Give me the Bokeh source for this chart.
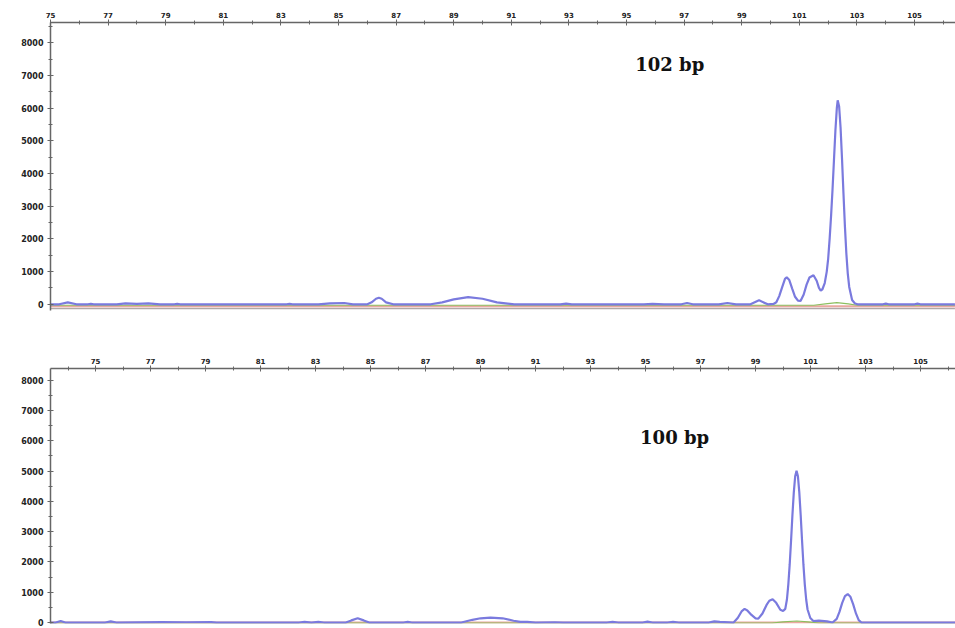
from bokeh.plotting import figure
from bokeh.layouts import column
from bokeh.models import FixedTicker, Range1d, Label
from bokeh.embed import file_html
from bokeh.resources import INLINE

# ---------------- data ----------------
x_ticks = list(range(75, 106, 2))
x_minor = list(range(73, 108))
y_ticks = list(range(0, 8001, 1000))
y_minor = list(range(0, 8501, 500))

# top panel (102 bp) blue trace
top_x = [75.0, 75.3, 75.6, 75.9, 76.3, 76.4, 76.5, 77.3, 77.6, 78.0, 78.4, 78.8,
         79.3, 79.4, 79.5, 83.2, 83.3, 83.4, 84.3, 84.7, 85.2, 85.5,
         86.0, 86.15, 86.3, 86.4, 86.5, 86.65, 86.9,
         88.2, 88.6, 89.0, 89.5, 90.0, 90.5, 90.8, 91.1,
         92.7, 92.9, 93.1, 95.6, 95.9, 96.3, 96.9, 97.1, 97.3, 98.2, 98.5, 98.8,
         99.3, 99.6, 99.9, 100.1, 100.2, 100.3, 100.4, 100.5, 100.56, 100.65,
         100.75, 100.85, 100.95, 101.04, 101.15, 101.25, 101.35, 101.49, 101.6,
         101.68, 101.74, 101.8, 101.88, 101.95, 102.0, 102.05, 102.1, 102.15,
         102.2, 102.25, 102.3, 102.33, 102.38, 102.43, 102.48, 102.53, 102.58,
         102.63, 102.68, 102.73, 102.83, 102.93, 103.02,
         103.9, 104.0, 104.1, 105.0, 105.1, 105.2, 106.4]
top_y = [0, 0, 60, 0, 0, 15, 0, 0, 30, 15, 25, 0,
         0, 15, 0, 0, 15, 0, 0, 25, 40, 0,
         0, 60, 170, 200, 170, 60, 0,
         0, 60, 150, 220, 170, 60, 30, 0,
         0, 20, 0, 0, 15, 0, 0, 40, 0, 0, 40, 0,
         0, 120, 0, 10, 60, 250, 520, 780, 825, 740,
         480, 230, 110, 100, 300, 600, 820, 890, 720,
         500, 420, 460, 650, 1000, 1400, 2000, 2700, 3500,
         4400, 5300, 6000, 6240, 6050, 5400, 4450, 3400, 2400,
         1560, 940, 530, 130, 25, 0,
         0, 20, 0, 0, 20, 0, 0]

# bottom panel (100 bp) blue trace
bot_x = [73.36, 73.55, 73.73, 73.9, 75.35, 75.55, 75.75, 77.4, 78.3, 79.2, 79.4,
         82.4, 82.6, 82.85, 83.1, 83.3, 84.1, 84.3, 84.53, 84.75, 84.95,
         86.2, 86.35, 86.5, 88.3, 88.7, 89.0, 89.36, 89.8, 90.2, 90.45, 90.7, 91.0,
         91.7, 92.0, 93.6, 93.8, 94.0, 94.9, 95.07, 95.25, 95.8, 96.0, 96.2,
         97.3, 97.5, 97.7, 98.2, 98.35, 98.5, 98.6, 98.7, 98.85, 99.0, 99.1,
         99.25, 99.4, 99.5, 99.62, 99.75, 99.9, 100.0, 100.08, 100.14, 100.19,
         100.24, 100.29, 100.34, 100.39, 100.44, 100.49, 100.54, 100.59, 100.64,
         100.69, 100.74, 100.79, 100.84, 100.89, 100.99, 101.1, 101.3, 101.6,
         101.8, 101.95, 102.05, 102.15, 102.25, 102.35, 102.45, 102.55, 102.65,
         102.75, 102.85, 106.27]
bot_y = [0, 0, 50, 0, 0, 40, 0, 15, 10, 15, 0,
         0, 20, 0, 20, 0, 0, 70, 140, 70, 0,
         0, 20, 0, 0, 90, 140, 160, 140, 60, 20, 20, 0,
         10, 0, 0, 20, 0, 0, 30, 0, 0, 20, 0,
         0, 40, 20, 0, 150, 380, 450, 400, 250, 140, 130,
         300, 580, 720, 770, 650, 420, 380, 450, 760, 1250,
         1910, 2700, 3550, 4300, 4830, 5016, 4830, 4300, 3550,
         2700, 1910, 1250, 760, 430, 150, 50, 60, 40,
         0, 120, 350, 650, 870, 940, 850, 600, 300,
         80, 0, 0]

# green traces
green_top_x = [75.0, 101.5, 101.9, 102.3, 102.7, 103.0, 106.4]
green_top_y = [-30, -30, 10, 50, 10, -30, -30]
green_bot_x = [73.36, 99.6, 100.0, 100.5, 100.9, 101.3, 106.27]
green_bot_y = [-15, -15, 20, 50, 20, -15, -15]

# baselines (pink / gray)
top_base_x = [75.0, 106.4]
top_pink_y = [-60, -60]
top_gray_y = [-130, -130]
bot_base_x = [73.36, 106.27]
bot_pink_y = [0, 0]

BLUE = "#7a7ade"
PINK = "#eaa8a0"
GREEN = "#8cbf60"
AXIS = "#666666"


def style(p):
    p.outline_line_color = None
    p.xgrid.visible = False
    p.ygrid.visible = False
    for ax in (p.xaxis[0], p.yaxis[0]):
        ax.axis_line_color = AXIS
        ax.axis_line_width = 1.5
        ax.major_tick_line_color = AXIS
        ax.minor_tick_line_color = AXIS
        ax.major_tick_in = 3
        ax.major_tick_out = 3
        ax.minor_tick_in = 2
        ax.minor_tick_out = 2
        ax.major_label_text_font = "DejaVu Sans"
        ax.major_label_text_font_style = "bold"
        ax.major_label_text_color = "#222222"
    p.xaxis[0].ticker = FixedTicker(ticks=x_ticks, minor_ticks=x_minor)
    p.yaxis[0].ticker = FixedTicker(ticks=y_ticks, minor_ticks=y_minor)
    p.xaxis[0].major_label_text_font_size = "7px"
    p.xaxis[0].major_label_standoff = 2
    p.yaxis[0].major_label_text_font_size = "8px"
    p.yaxis[0].major_label_standoff = 4


p1 = figure(width=955, height=313, output_backend="svg", toolbar_location=None,
            x_axis_location="above", x_range=Range1d(75.0, 106.42),
            y_range=Range1d(-190, 8620), min_border_left=50, min_border_right=0,
            min_border_top=22, min_border_bottom=3)
style(p1)
p1.line(top_base_x, top_gray_y, line_color="#b0a8a8", line_width=1.5)
p1.line(top_base_x, top_pink_y, line_color=PINK, line_width=2)
p1.line(green_top_x, green_top_y, line_color=GREEN, line_width=1.2)
p1.line(top_x, top_y, line_color=BLUE, line_width=2.2)
p1.add_layout(Label(x=95.3, y=7350, text="102 bp", text_font="DejaVu Serif",
                    text_font_style="bold", text_font_size="18px",
                    text_color="#111111", text_baseline="middle"))

p2 = figure(width=955, height=315, output_backend="svg", toolbar_location=None,
            x_axis_location="above", x_range=Range1d(73.36, 106.27),
            y_range=Range1d(-32, 8389), min_border_left=50, min_border_right=0,
            min_border_top=55, min_border_bottom=5)
style(p2)
p2.line(bot_base_x, bot_pink_y, line_color=PINK, line_width=2)
p2.line(green_bot_x, green_bot_y, line_color=GREEN, line_width=1.2)
p2.line(bot_x, bot_y, line_color=BLUE, line_width=2.2)
p2.add_layout(Label(x=94.8, y=6120, text="100 bp", text_font="DejaVu Serif",
                    text_font_style="bold", text_font_size="18px",
                    text_color="#111111", text_baseline="middle"))

layout = column(p1, p2, spacing=0)
open("out.html", "w").write(file_html(layout, INLINE))
